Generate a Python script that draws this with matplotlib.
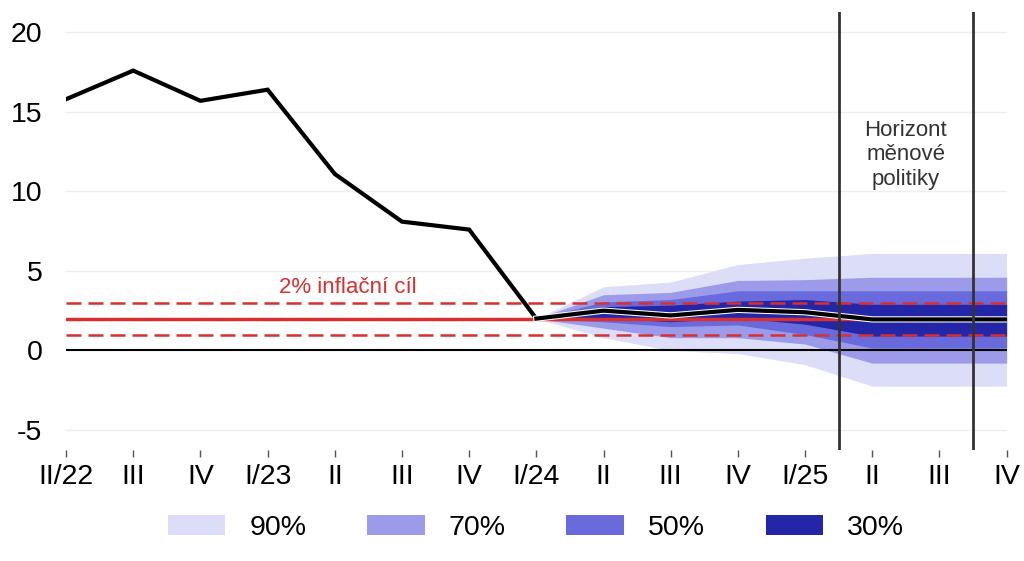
import matplotlib.pyplot as plt
import matplotlib.patheffects as pe
from matplotlib.patches import Patch

plt.rcParams['font.family'] = ['Liberation Sans', 'DejaVu Sans']

# Kategorie (ctvrtleti)
kategorie = ["II/22", "III", "IV", "I/23", "II", "III", "IV", "I/24",
             "II", "III", "IV", "I/25", "II", "III", "IV"]

# Skutecnost (II/22 - I/24)
skutecnost = [15.8, 17.6, 15.7, 16.4, 11.1, 8.1, 7.6, 2.0]

# Prognoza (I/24 - IV/25)
prognoza = [2.0, 2.5, 2.2, 2.55, 2.4, 1.95, 1.95, 1.95]

# Pasy nejistoty
horni_90 = [2.0, 4.0, 4.3, 5.4, 5.8, 6.1, 6.1, 6.1]
dolni_90 = [2.0, 0.8, 0.0, -0.2, -0.9, -2.25, -2.25, -2.25]
horni_70 = [2.0, 3.5, 3.65, 4.4, 4.45, 4.6, 4.6, 4.6]
dolni_70 = [2.0, 1.4, 0.8, 0.8, 0.4, -0.8, -0.8, -0.8]
horni_50 = [2.0, 3.05, 3.2, 3.75, 3.75, 3.75, 3.75, 3.75]
dolni_50 = [2.0, 1.8, 1.5, 1.6, 1.0, 0.15, 0.15, 0.15]
horni_30 = [2.0, 2.75, 2.85, 3.1, 3.2, 2.9, 2.9, 2.9]
dolni_30 = [2.0, 2.05, 1.8, 2.05, 1.65, 0.9, 0.9, 0.9]

cil = 2
horizont = [11.5, 13.5]

barvy = {"90%": "#dcddf7", "70%": "#9b9bea", "50%": "#696bdc", "30%": "#2326a6"}
cervena = "#d92f2f"

x_hist = list(range(len(skutecnost)))
x_prog = list(range(len(skutecnost) - 1, len(kategorie)))

fig = plt.figure(figsize=(10.24, 5.61), dpi=100)
ax = fig.add_axes([0.0645, 0.198, 0.9185, 0.781])

# Vejir
ax.fill_between(x_prog, dolni_90, horni_90, color=barvy["90%"], lw=0)
ax.fill_between(x_prog, dolni_70, horni_70, color=barvy["70%"], lw=0)
ax.fill_between(x_prog, dolni_50, horni_50, color=barvy["50%"], lw=0)
ax.fill_between(x_prog, dolni_30, horni_30, color=barvy["30%"], lw=0)

# Mrizka a nulova osa
for v in [-5, 5, 10, 15, 20]:
    ax.axhline(v, color="#eeeeee", lw=1, zorder=0)
ax.axhline(0, color="black", lw=1.5, zorder=3)

# Inflacni cil
ax.axhline(cil, color=cervena, lw=2.5, zorder=4)
ax.axhline(cil + 1, color=cervena, lw=1.8, ls=(0, (6, 2.8)), zorder=4)
ax.axhline(cil - 1, color=cervena, lw=1.8, ls=(0, (6, 2.8)), zorder=4)
ax.text(4.2, 3.95, "2% inflační cíl", color=cervena, fontsize=16,
        ha="center", va="center", zorder=5)

# Linie
ax.plot(x_hist, skutecnost, color="black", lw=3, zorder=6, solid_joinstyle="miter")
ax.plot(x_prog, prognoza, color="black", lw=3, zorder=7,
        path_effects=[pe.Stroke(linewidth=4.5, foreground="white"), pe.Normal()])

# Horizont menove politiky
for h in horizont:
    ax.axvline(h, color="#333333", lw=2, zorder=8)
ax.text(12.5, 12.3, "Horizont\nměnové\npolitiky", color="#333333", fontsize=16,
        ha="center", va="center", linespacing=1.22, zorder=9)

ax.set_xlim(0, len(kategorie) - 1)
ax.set_ylim(-6.26, 21.3)
ax.set_xticks(range(len(kategorie)))
ax.set_xticklabels(kategorie, fontsize=20.5)
ax.set_yticks([-5, 0, 5, 10, 15, 20])
ax.set_yticklabels(["-5", "0", "5", "10", "15", "20"], fontsize=20.5)
ax.tick_params(axis="y", length=0, pad=17)
ax.tick_params(axis="x", length=5, width=1, color="#555555", pad=5)
for s in ax.spines.values():
    s.set_visible(False)

handles = [Patch(facecolor=barvy[k], edgecolor="none", label=k) for k in ["90%", "70%", "50%", "30%"]]
fig.legend(handles=handles, loc="center", bbox_to_anchor=(0.5234, 0.059), ncol=4,
           frameon=False, fontsize=20.5, handlelength=2.02, handleheight=0.7,
           handletextpad=0.84, columnspacing=2.14)

fig.savefig("out.png", dpi=100)
